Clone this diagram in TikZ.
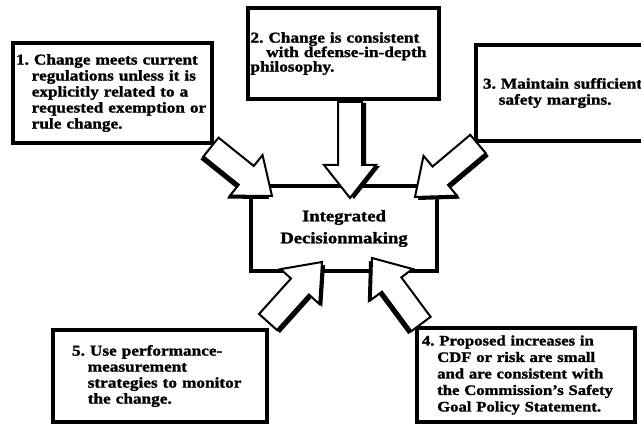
\documentclass[tikz,border=0pt]{standalone}
\usepackage{fontspec}
\setmainfont{Liberation Serif}[FakeStretch=1.15,BoldFeatures={FakeBold=1.5}]
\usetikzlibrary{calc}
\frenchspacing
\hyphenpenalty=10000
\exhyphenpenalty=10000
\newcommand{\hangtab}{\hspace*{1.05em}}
\newcommand{\fatarrow}[3]{%
  \coordinate (hb) at ($(#2)!33pt!(#1)$);
  \coordinate (p1) at ($(#1)!12pt!90:(#2)$);
  \coordinate (p2) at ($(hb)!12pt!-90:(#1)$);
  \coordinate (p3) at ($(hb)!26pt!-90:(#1)$);
  \coordinate (p4) at ($(hb)!26pt!90:(#1)$);
  \coordinate (p5) at ($(hb)!12pt!90:(#1)$);
  \coordinate (p6) at ($(#1)!12pt!-90:(#2)$);
  \begin{scope}[transform canvas={shift={(#3)}}]
  \fill (p1) -- (p2) -- (p3) -- (#2) -- (p4) -- (p5) -- (p6) -- cycle;
  \end{scope}
  \draw [fat] (p1) -- (p2) -- (p3) -- (#2) -- (p4) -- (p5) -- (p6) -- cycle;
}
\tikzset{
  box/.style={draw, line width=3.2pt, inner sep=0pt, align=left, font=\fontsize{15}{16}\selectfont\bfseries},
  fat/.style={draw, fill=white, line width=2pt, line join=miter},
}
\begin{document}
\begin{tikzpicture}[line cap=round,x=1pt,y=-1pt]
\useasboundingbox (0,0) rectangle (641,430);
\clip (0,0) rectangle (641,430);
\node [box, minimum width=199, minimum height=100, text width=193] (req1) at (112.5,93)
  {1. Change meets current\\ \hangtab regulations unless it is\\ \hangtab explicitly related to a\\ \hangtab requested exemption or\\ \hangtab rule change.};
\node [box, minimum width=191, minimum height=91, text width=186, font=\fontsize{15}{14.5}\selectfont\bfseries] (req2) at (343.5,53.5)
  {2. Change is consistent\\ \hangtab with defense-in-depth\\ philosophy.};
\node [box, minimum width=180, minimum height=96, text width=166] (req3) at (566,93)
  {3. Maintain sufficient\\ \hangtab safety margins.};
\node [box, minimum width=218, minimum height=94, text width=208, font=\fontsize{14.5}{16.5}\selectfont\bfseries] (req4) at (526,375)
  {4. Proposed increases in\\ \hangtab CDF or risk are small\\ \hangtab and are consistent with\\ \hangtab the Commission's Safety\\ \hangtab Goal Policy Statement.};
\node [box, minimum width=214, minimum height=92, text width=176] (req5) at (160,376)
  {5. Use performance-\\ \hangtab measurement\\ \hangtab strategies to monitor\\ \hangtab the change.};
\node [box, align=center, minimum width=186, minimum height=85, font=\fontsize{16.2}{22}\selectfont\bfseries] (dec) at (344,228.5)
  {Integrated\\ Decisionmaking};
\coordinate (from1) at (211,147);
\coordinate (to1) at (272,196);
\coordinate (from2) at (350,102);
\coordinate (to2) at (350,198);
\coordinate (from3) at (478,144);
\coordinate (to3) at (415,197);
\coordinate (from4) at (421,324);
\coordinate (to4) at (372,258);
\coordinate (from5) at (268,322);
\coordinate (to5) at (322,262);
\fatarrow{from1}{to1}{-3,3}
\fatarrow{from2}{to2}{4,1}
\fatarrow{from3}{to3}{3,3}
\fatarrow{from4}{to4}{-3,3}
\fatarrow{from5}{to5}{3,3}
\end{tikzpicture}
\end{document}
